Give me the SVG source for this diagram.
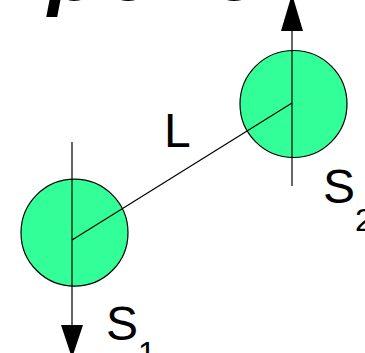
<svg xmlns="http://www.w3.org/2000/svg" width="365" height="353" viewBox="0 0 365 353">
<style>
.ball{fill:#33ff99;stroke:#000;stroke-width:1.2}
.ln{stroke:#000;stroke-width:1.2;fill:none}
.head{fill:#000}
.lbl{font-family:"Liberation Sans",Arial,sans-serif;fill:#000}
.big{font-family:"Liberation Sans",Arial,sans-serif;font-weight:bold;font-style:italic;fill:#000}
</style>
<text class="big" font-size="80" x="48 108 170 214" y="0">pene</text>
<g id="sphere1">
<circle class="ball" cx="74.5" cy="232.7" r="53.5"/>
</g>
<g id="sphere2">
<circle class="ball" cx="293.5" cy="104" r="53.5"/>
</g>
<g id="connectors">
<line class="ln" x1="72" y1="240" x2="292" y2="103"/>
<line class="ln" x1="72" y1="142" x2="72" y2="326"/>
<polygon class="head" points="61,325 83,325 72,358"/>
<line class="ln" x1="292" y1="186" x2="292" y2="30"/>
<polygon class="head" points="281,31 303,31 292,-6"/>
</g>
<g id="labels">
<text class="lbl" font-size="48" x="164" y="147">L</text>
<text class="lbl" font-size="48" x="323" y="203">S<tspan font-size="32" dy="28">2</tspan></text>
<text class="lbl" font-size="48" x="106" y="340">S<tspan font-size="32" dy="24">1</tspan></text>
</g>
</svg>
